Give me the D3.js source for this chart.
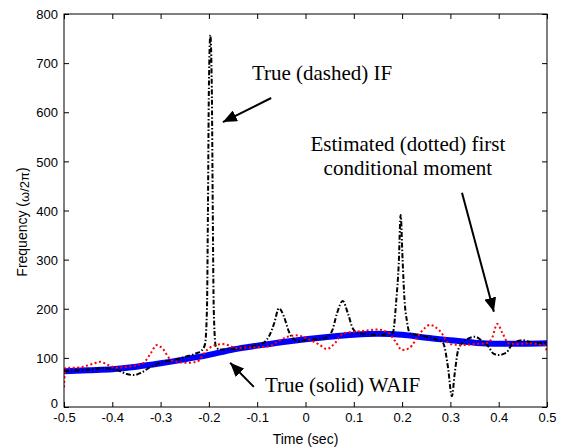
<!DOCTYPE html>
<html>
<head>
<meta charset="utf-8">
<script src="https://cdn.jsdelivr.net/npm/d3@7"></script>
<style>
  body { margin: 0; background: #fff; }
  svg { display: block; }
  .tick text { font-family: "Liberation Sans", Arial, sans-serif; font-size: 13px; fill: #000; }
</style>
</head>
<body>
<div id="chart"></div>
<script>
// ticks
var xTicks = [-0.5, -0.4, -0.3, -0.2, -0.1, 0, 0.1, 0.2, 0.3, 0.4, 0.5];
var yTicks = [0, 100, 200, 300, 400, 500, 600, 700, 800];

// True (solid) WAIF
var waifT = [-0.5, -0.45, -0.4, -0.35, -0.3, -0.25, -0.2, -0.15, -0.1, -0.05, 0, 0.05, 0.1, 0.15, 0.2, 0.25, 0.3, 0.35, 0.4, 0.45, 0.5];
var waifV = [73, 75, 77, 82, 89, 97, 106, 117, 125, 132, 138, 143, 147, 149, 147, 141, 136, 131, 129, 129, 130];

// True (dashed) IF
var ifT = [-0.5, -0.45, -0.42, -0.39, -0.37, -0.355, -0.34, -0.32, -0.3, -0.27, -0.25, -0.23, -0.215,
           -0.208, -0.204, -0.202, -0.2, -0.197, -0.194, -0.192, -0.19, -0.186, -0.178, -0.15, -0.12, -0.1,
           -0.085, -0.075, -0.065, -0.055, -0.045, -0.035, -0.028, -0.015, 0, 0.02, 0.04, 0.055, 0.065,
           0.077, 0.088, 0.098, 0.11, 0.13, 0.15, 0.17, 0.181, 0.188, 0.193, 0.197, 0.201, 0.205, 0.21,
           0.216, 0.23, 0.25, 0.27, 0.285, 0.295, 0.303, 0.309, 0.316, 0.324, 0.335, 0.351, 0.365, 0.378,
           0.39, 0.4, 0.415, 0.43, 0.45, 0.465, 0.48, 0.5];
var ifV = [73, 76, 79, 75, 67, 65, 70, 82, 90, 96, 102, 108, 115,
           128, 200, 400, 650, 757, 650, 400, 200, 125, 117, 118, 122, 126,
           132, 145, 170, 201, 185, 155, 142, 134, 136, 138, 140, 155, 190,
           216, 190, 160, 150, 148, 147, 148, 152, 218, 290, 391, 300, 218, 175,
           150, 147, 143, 138, 130, 81, 22, 69, 116, 130, 138, 143, 135, 124,
           108, 106, 110, 130, 136, 132, 130, 131];

// Estimated (dotted) first conditional moment
var estT = [-0.5, -0.497, -0.48, -0.46, -0.44, -0.425, -0.41, -0.39, -0.37, -0.35, -0.335, -0.32, -0.308,
            -0.295, -0.28, -0.265, -0.245, -0.225, -0.205, -0.19, -0.17, -0.142, -0.121, -0.088, -0.074,
            -0.06, -0.04, -0.02, -0.005, 0.015, 0.03, 0.044, 0.061, 0.078, 0.1, 0.13, 0.148, 0.17, 0.185,
            0.2, 0.215, 0.237, 0.258, 0.278, 0.3, 0.326, 0.35, 0.375, 0.386, 0.397, 0.408, 0.42, 0.44,
            0.46, 0.48, 0.495, 0.5];
var estV = [40, 80, 80, 82, 88, 92, 86, 80, 82, 85, 90, 110, 126,
            118, 97, 92, 90, 92, 115, 125, 128, 120, 121, 122, 124,
            132, 142, 146, 143, 134, 126, 118, 130, 150, 153, 156, 158, 152, 135,
            116, 120, 150, 167, 155, 128, 126, 128, 130, 140, 169, 150, 130, 128,
            130, 128, 125, 112];

var margin = {top: 14, right: 32, bottom: 41, left: 64},
    width = 579 - margin.left - margin.right,
    height = 448 - margin.top - margin.bottom;

var svg = d3.select("#chart")
  .append("svg")
    .attr("width", 579)
    .attr("height", 448);

var defs = svg.append("defs");
defs.append("marker")
    .attr("id", "head")
    .attr("markerUnits", "userSpaceOnUse")
    .attr("viewBox", "0 0 14 12")
    .attr("refX", 14)
    .attr("refY", 6)
    .attr("markerWidth", 14)
    .attr("markerHeight", 12)
    .attr("orient", "auto")
  .append("path")
    .attr("d", "M0,0L14,6L0,12Z")
    .attr("fill", "#000");

var g = svg.append("g")
    .attr("transform", "translate(" + margin.left + "," + margin.top + ")");

var x = d3.scaleLinear().domain([-0.5, 0.5]).range([0, width]);
var y = d3.scaleLinear().domain([0, 800]).range([height, 0]);

// plain hyphen for negative tick labels, like the original
var fmt = d3.formatLocale({decimal: ".", thousands: ",", grouping: [3], currency: ["", ""], minus: "-"}).format(".1f");

// axes, ticks inward on all four sides
var tl = 5;
g.append("g")
    .attr("transform", "translate(0," + height + ")")
    .call(d3.axisBottom(x).tickValues(xTicks).tickSize(-tl).tickPadding(6)
      .tickFormat(function(d) { return d === 0 ? "0" : fmt(d); }));
g.append("g")
    .call(d3.axisTop(x).tickValues(xTicks).tickSize(-tl).tickFormat(""));
var yAxis = g.append("g")
    .call(d3.axisLeft(y).tickValues(yTicks).tickSize(-tl).tickPadding(6));
// the bottom "0" sits a bit higher so it clears the x labels
yAxis.selectAll(".tick text").attr("dy", function(d) { return d === 0 ? "0em" : "0.36em"; });
g.append("g")
    .attr("transform", "translate(" + width + ",0)")
    .call(d3.axisRight(y).tickValues(yTicks).tickSize(-tl).tickFormat(""));
g.selectAll(".domain").remove();
g.selectAll(".tick line").attr("stroke", "#000");

// clip
defs.append("clipPath").attr("id", "clip")
  .append("rect").attr("width", width).attr("height", height);

var plot = g.append("g").attr("clip-path", "url(#clip)");

function lineOf(ts, vs) {
  return d3.line()
    .x(function(d, i) { return x(ts[i]); })
    .y(function(d) { return y(d); })
    .curve(d3.curveMonotoneX)(vs);
}

plot.append("path")
    .attr("d", lineOf(waifT, waifV))
    .attr("fill", "none")
    .attr("stroke", "#0000ff")
    .attr("stroke-width", 6);

plot.append("path")
    .attr("d", lineOf(ifT, ifV))
    .attr("fill", "none")
    .attr("stroke", "#000")
    .attr("stroke-width", 2)
    .attr("stroke-dasharray", "5,2,1.5,2");

plot.append("path")
    .attr("d", lineOf(estT, estV))
    .attr("fill", "none")
    .attr("stroke", "#ff0000")
    .attr("stroke-width", 2)
    .attr("stroke-dasharray", "2,2.5");

// box
g.append("rect")
    .attr("width", width)
    .attr("height", height)
    .attr("fill", "none")
    .attr("stroke", "#000")
    .attr("stroke-width", 1);

// axis labels
svg.append("text")
    .attr("x", margin.left + width / 2)
    .attr("y", 444)
    .attr("text-anchor", "middle")
    .style("font-family", "Liberation Sans, Arial, sans-serif")
    .style("font-size", "14px")
    .text("Time (sec)");

var yl = svg.append("text")
    .attr("transform", "translate(27,222) rotate(-90)")
    .attr("text-anchor", "middle")
    .style("font-family", "Liberation Sans, Arial, sans-serif")
    .style("font-size", "14px");
yl.append("tspan").text("Frequency (");
yl.append("tspan").style("font-size", "13px").attr("dy", 2).text("ω/2π");
yl.append("tspan").attr("dy", -2).text(")");

// annotations
var serif = "Liberation Serif, Times New Roman, serif";
function note(t, v, str, anchor) {
  g.append("text")
    .attr("x", x(t))
    .attr("y", y(v))
    .attr("text-anchor", anchor || "start")
    .style("font-family", serif)
    .style("font-size", "21px")
    .text(str);
}
function arrow(t0, v0, t1, v1) {
  g.append("line")
    .attr("x1", x(t0)).attr("y1", y(v0))
    .attr("x2", x(t1)).attr("y2", y(v1))
    .attr("stroke", "#000")
    .attr("stroke-width", 2)
    .attr("marker-end", "url(#head)");
}

note(-0.111, 666, "True (dashed) IF");
arrow(-0.071, 629, -0.171, 580);

note(0.212, 521, "Estimated (dotted) first", "middle");
note(0.212, 472, "conditional moment", "middle");
arrow(0.324, 436, 0.390, 194);

note(-0.084, 31, "True (solid) WAIF");
arrow(-0.107, 41, -0.156, 90);
</script>
</body>
</html>
